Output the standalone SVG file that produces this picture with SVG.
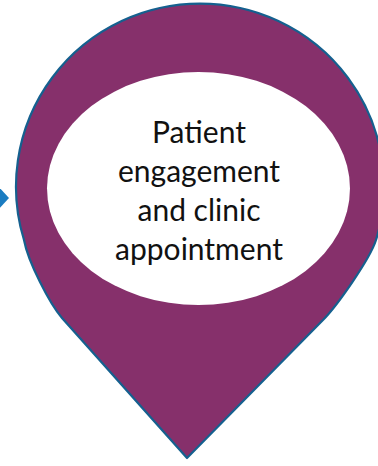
<svg xmlns="http://www.w3.org/2000/svg" width="378" height="466" viewBox="0 0 378 466">
  <style>
    .pin { fill: #86306B; stroke: #15608F; stroke-width: 2.2; stroke-linejoin: round; }
    .hole { fill: #FFFFFF; }
    .label { font-family: Lato, "Open Sans", "Liberation Sans", sans-serif; font-size: 30px; fill: #111111; text-anchor: middle; }
    .arrow { fill: #1A7CC1; }
  </style>
  <rect width="378" height="466" fill="#FFFFFF"/>
  <!-- incoming arrow tip at the left edge -->
  <g id="arrow-in">
    <polygon class="arrow" points="-2,186 9,198 -2,210"/>
  </g>
  <!-- location pin with its label -->
  <g id="pin-node">
    <path class="pin" d="M187,458 L62,318 C50,304 28,262 24,240 A184,183 0 1 1 376,240 C370,259 337,306 323,320 Z"/>
    <ellipse class="hole" cx="198.5" cy="188.5" rx="151.5" ry="116.5"/>
    <text class="label" x="199" y="143">Patient</text>
    <text class="label" x="199" y="182">engagement</text>
    <text class="label" x="199" y="221">and clinic</text>
    <text class="label" x="199" y="260">appointment</text>
  </g>
</svg>
